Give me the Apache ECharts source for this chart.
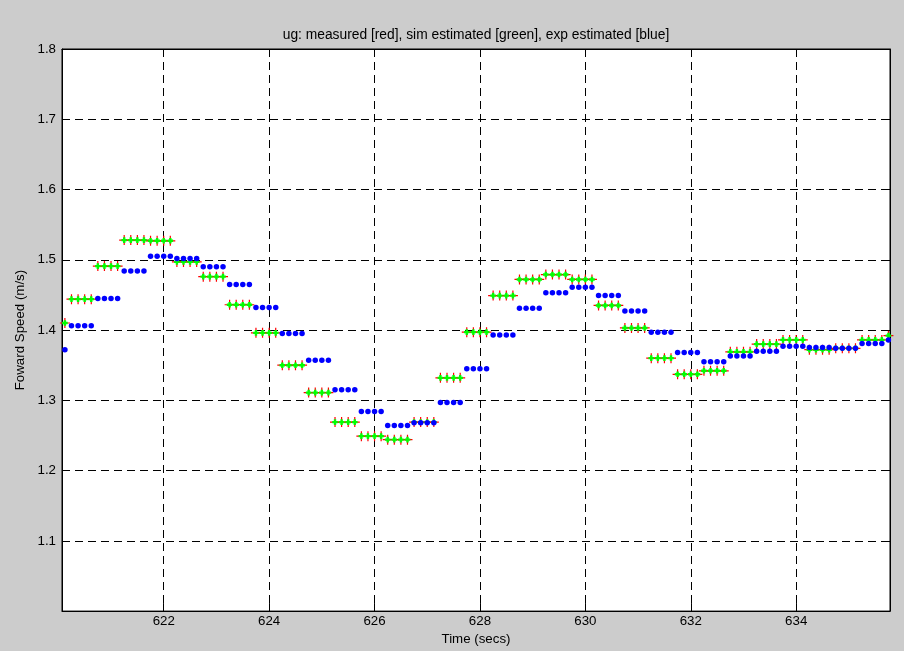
<!DOCTYPE html>
<html>
<head>
<meta charset="utf-8">
<script src="https://cdn.jsdelivr.net/npm/echarts@6/dist/echarts.min.js"></script>
<style>
  html, body { margin: 0; padding: 0; background: #cccccc; }
  #chart { width: 904px; height: 651px; }
</style>
</head>
<body>
<div id="chart"></div>
<script>
// Sample instants (s), 8 Hz sampling; speed estimates are updated every 4 samples.
const time = [
  620.125,
  620.25, 620.375, 620.5, 620.625,
  620.75, 620.875, 621, 621.125,
  621.25, 621.375, 621.5, 621.625,
  621.75, 621.875, 622, 622.125,
  622.25, 622.375, 622.5, 622.625,
  622.75, 622.875, 623, 623.125,
  623.25, 623.375, 623.5, 623.625,
  623.75, 623.875, 624, 624.125,
  624.25, 624.375, 624.5, 624.625,
  624.75, 624.875, 625, 625.125,
  625.25, 625.375, 625.5, 625.625,
  625.75, 625.875, 626, 626.125,
  626.25, 626.375, 626.5, 626.625,
  626.75, 626.875, 627, 627.125,
  627.25, 627.375, 627.5, 627.625,
  627.75, 627.875, 628, 628.125,
  628.25, 628.375, 628.5, 628.625,
  628.75, 628.875, 629, 629.125,
  629.25, 629.375, 629.5, 629.625,
  629.75, 629.875, 630, 630.125,
  630.25, 630.375, 630.5, 630.625,
  630.75, 630.875, 631, 631.125,
  631.25, 631.375, 631.5, 631.625,
  631.75, 631.875, 632, 632.125,
  632.25, 632.375, 632.5, 632.625,
  632.75, 632.875, 633, 633.125,
  633.25, 633.375, 633.5, 633.625,
  633.75, 633.875, 634, 634.125,
  634.25, 634.375, 634.5, 634.625,
  634.75, 634.875, 635, 635.125,
  635.25, 635.375, 635.5, 635.625,
  635.75
];

// Forward speed (m/s) — measured
const measured = [
  1.410,
  1.444, 1.444, 1.444, 1.444,
  1.491, 1.491, 1.491, 1.491,
  1.528, 1.528, 1.528, 1.528,
  1.527, 1.527, 1.527, 1.527,
  1.497, 1.497, 1.497, 1.497,
  1.476, 1.476, 1.476, 1.476,
  1.436, 1.436, 1.436, 1.436,
  1.396, 1.396, 1.396, 1.396,
  1.350, 1.350, 1.350, 1.350,
  1.311, 1.311, 1.311, 1.311,
  1.269, 1.269, 1.269, 1.269,
  1.249, 1.249, 1.249, 1.249,
  1.244, 1.244, 1.244, 1.244,
  1.269, 1.269, 1.269, 1.269,
  1.332, 1.332, 1.332, 1.332,
  1.397, 1.397, 1.397, 1.397,
  1.449, 1.449, 1.449, 1.449,
  1.472, 1.472, 1.472, 1.472,
  1.479, 1.479, 1.479, 1.479,
  1.472, 1.472, 1.472, 1.472,
  1.435, 1.435, 1.435, 1.435,
  1.403, 1.403, 1.403, 1.403,
  1.360, 1.360, 1.360, 1.360,
  1.337, 1.337, 1.337, 1.337,
  1.342, 1.342, 1.342, 1.342,
  1.369, 1.369, 1.369, 1.369,
  1.380, 1.380, 1.380, 1.380,
  1.386, 1.386, 1.386, 1.386,
  1.372, 1.372, 1.372, 1.372,
  1.374, 1.374, 1.374, 1.374,
  1.386, 1.386, 1.386, 1.386,
  1.392
];

// Forward speed (m/s) — simulation estimate
const simEstimated = [
  1.410,
  1.444, 1.444, 1.444, 1.444,
  1.491, 1.491, 1.491, 1.491,
  1.528, 1.528, 1.528, 1.528,
  1.527, 1.527, 1.527, 1.527,
  1.497, 1.497, 1.497, 1.497,
  1.476, 1.476, 1.476, 1.476,
  1.436, 1.436, 1.436, 1.436,
  1.396, 1.396, 1.396, 1.396,
  1.350, 1.350, 1.350, 1.350,
  1.311, 1.311, 1.311, 1.311,
  1.269, 1.269, 1.269, 1.269,
  1.249, 1.249, 1.249, 1.249,
  1.244, 1.244, 1.244, 1.244,
  1.269, 1.269, 1.269, 1.269,
  1.332, 1.332, 1.332, 1.332,
  1.397, 1.397, 1.397, 1.397,
  1.449, 1.449, 1.449, 1.449,
  1.472, 1.472, 1.472, 1.472,
  1.479, 1.479, 1.479, 1.479,
  1.472, 1.472, 1.472, 1.472,
  1.435, 1.435, 1.435, 1.435,
  1.403, 1.403, 1.403, 1.403,
  1.360, 1.360, 1.360, 1.360,
  1.337, 1.337, 1.337, 1.337,
  1.342, 1.342, 1.342, 1.342,
  1.369, 1.369, 1.369, 1.369,
  1.380, 1.380, 1.380, 1.380,
  1.386, 1.386, 1.386, 1.386,
  1.372, 1.372, 1.372, 1.372,
  1.374, 1.374, 1.374, 1.374,
  1.386, 1.386, 1.386, 1.386,
  1.392
];

// Forward speed (m/s) — experimental estimate
const expEstimated = [
  1.372,
  1.406, 1.406, 1.406, 1.406,
  1.445, 1.445, 1.445, 1.445,
  1.484, 1.484, 1.484, 1.484,
  1.505, 1.505, 1.505, 1.505,
  1.502, 1.502, 1.502, 1.502,
  1.490, 1.490, 1.490, 1.490,
  1.465, 1.465, 1.465, 1.465,
  1.432, 1.432, 1.432, 1.432,
  1.395, 1.395, 1.395, 1.395,
  1.357, 1.357, 1.357, 1.357,
  1.315, 1.315, 1.315, 1.315,
  1.284, 1.284, 1.284, 1.284,
  1.264, 1.264, 1.264, 1.264,
  1.268, 1.268, 1.268, 1.268,
  1.297, 1.297, 1.297, 1.297,
  1.345, 1.345, 1.345, 1.345,
  1.393, 1.393, 1.393, 1.393,
  1.431, 1.431, 1.431, 1.431,
  1.453, 1.453, 1.453, 1.453,
  1.461, 1.461, 1.461, 1.461,
  1.449, 1.449, 1.449, 1.449,
  1.427, 1.427, 1.427, 1.427,
  1.397, 1.397, 1.397, 1.397,
  1.368, 1.368, 1.368, 1.368,
  1.355, 1.355, 1.355, 1.355,
  1.363, 1.363, 1.363, 1.363,
  1.370, 1.370, 1.370, 1.370,
  1.377, 1.377, 1.377, 1.377,
  1.375, 1.375, 1.375, 1.375,
  1.374, 1.374, 1.374, 1.374,
  1.381, 1.381, 1.381, 1.381,
  1.386
];

const xTicks = [622, 624, 626, 628, 630, 632, 634];
const titleText = 'ug: measured [red], sim estimated [green], exp estimated [blue]';
const xLabel = 'Time (secs)';
const yLabel = 'Foward Speed (m/s)';

const FONT = 'Liberation Sans, Arial, Helvetica, sans-serif';
const FS = 13.3;

const pairs = (vals) => time.map((t, i) => [t, vals[i]]);

// '+' marker shapes drawn as filled crosses
const plusThin = 'path://M4.4,0H5.6V4.4H10V5.6H5.6V10H4.4V5.6H0V4.4H4.4Z';
const plusBold = 'path://M0,1.6H1.6V0H4V1.6H5.6V4H4V5.6H1.6V4H0Z';

const X_MIN = 620.07, X_MAX = 635.78;

const chart = echarts.init(document.getElementById('chart'), null, { renderer: 'canvas' });

const gridLine = { show: true, lineStyle: { color: '#000', width: 1, type: [8, 5] } };

chart.setOption({
  animation: false,
  backgroundColor: '#cccccc',
  textStyle: { fontFamily: FONT },
  graphic: [{
    type: 'text',
    x: 476, y: 35,
    style: {
      text: titleText, fill: '#000', font: '13.8px ' + FONT,
      textAlign: 'center', textVerticalAlign: 'middle'
    }
  }],
  grid: {
    left: 62, right: 14, top: 49, bottom: 38,
    show: true, backgroundColor: '#ffffff', borderColor: '#000', borderWidth: 1
  },
  xAxis: [{
    type: 'value', min: X_MIN, max: X_MAX, position: 'bottom',
    name: xLabel, nameLocation: 'middle', nameGap: 21,
    nameTextStyle: { color: '#000', fontSize: FS, fontFamily: FONT },
    axisLine: { show: true, onZero: false, lineStyle: { color: '#000', width: 1 } },
    axisTick: { show: true, inside: true, length: 8, customValues: xTicks, lineStyle: { color: '#000' } },
    axisLabel: { show: true, customValues: xTicks, color: '#000', fontSize: FS, fontFamily: FONT, margin: 4,
                 formatter: (v) => String(v) },
    splitLine: gridLine
  }, {
    type: 'value', min: X_MIN, max: X_MAX, position: 'top',
    axisLine: { show: true, onZero: false, lineStyle: { color: '#000', width: 1 } },
    axisTick: { show: true, inside: true, length: 8, customValues: xTicks, lineStyle: { color: '#000' } },
    axisLabel: { show: false },
    splitLine: { show: false }
  }],
  yAxis: [{
    type: 'value', min: 1.0, max: 1.8, interval: 0.1, position: 'left',
    name: yLabel, nameLocation: 'middle', nameGap: 31, nameRotate: 90,
    nameTextStyle: { color: '#000', fontSize: FS, fontFamily: FONT },
    axisLine: { show: true, onZero: false, lineStyle: { color: '#000', width: 1 } },
    axisTick: { show: true, inside: true, length: 8, lineStyle: { color: '#000' } },
    axisLabel: { color: '#000', fontSize: FS, fontFamily: FONT, margin: 6,
                 formatter: (v) => (Math.abs(v - 1) < 1e-9 ? '' : v.toFixed(1)) },
    splitLine: gridLine
  }, {
    type: 'value', min: 1.0, max: 1.8, interval: 0.1, position: 'right',
    axisLine: { show: true, onZero: false, lineStyle: { color: '#000', width: 1 } },
    axisTick: { show: true, inside: true, length: 8, lineStyle: { color: '#000' } },
    axisLabel: { show: false },
    splitLine: { show: false }
  }],
  series: [{
    name: 'measured', type: 'scatter', xAxisIndex: 0, yAxisIndex: 0,
    data: pairs(measured), symbol: plusThin, symbolSize: 10,
    itemStyle: { color: '#ff0000', opacity: 1 }, z: 3
  }, {
    name: 'sim estimated', type: 'scatter', xAxisIndex: 0, yAxisIndex: 0,
    data: pairs(simEstimated), symbol: plusBold, symbolSize: 5.6,
    itemStyle: { color: '#00ff00', opacity: 1 }, z: 4
  }, {
    name: 'exp estimated', type: 'scatter', xAxisIndex: 0, yAxisIndex: 0,
    data: pairs(expEstimated), symbol: 'circle', symbolSize: 5.5,
    itemStyle: { color: '#0000ff', opacity: 1 }, z: 5
  }]
});
</script>
</body>
</html>
